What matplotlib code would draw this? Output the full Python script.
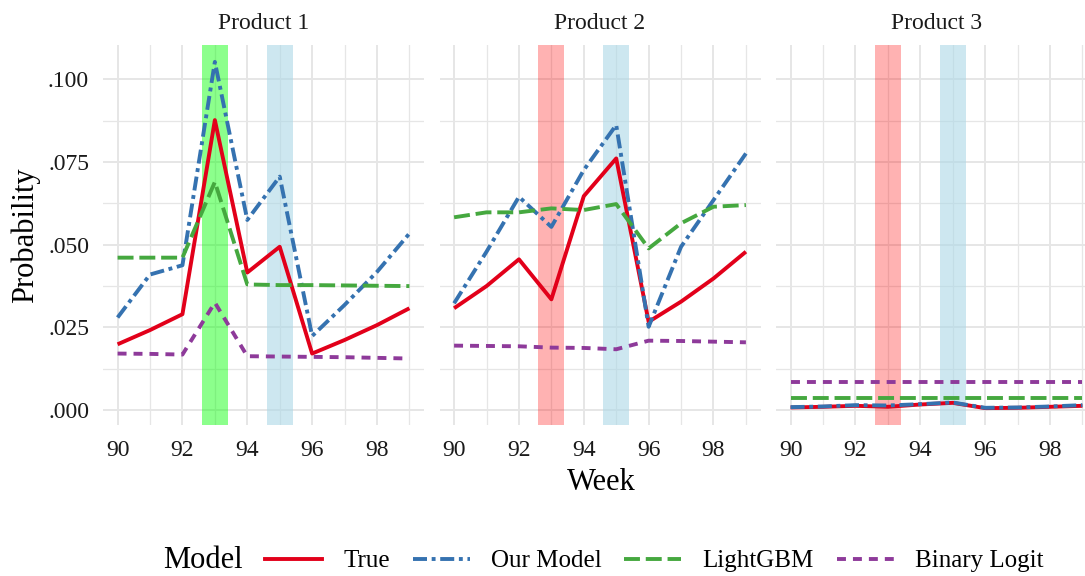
import matplotlib
matplotlib.use("Agg")
import matplotlib.pyplot as plt
from matplotlib.lines import Line2D
from matplotlib.ticker import FixedLocator

plt.rcParams['font.family'] = ['Liberation Serif', 'DejaVu Serif']

weeks = [90, 91, 92, 93, 94, 95, 96, 97, 98, 99]
products = ["Product 1", "Product 2", "Product 3"]
models = ["True", "Our Model", "LightGBM", "Binary Logit"]

# Product 1
p1_true = [0.0199, 0.0242, 0.0290, 0.0877, 0.0416, 0.0494, 0.0171, 0.0212, 0.0257, 0.0308]
p1_ours = [0.0280, 0.0410, 0.0438, 0.1053, 0.0575, 0.0706, 0.0224, 0.0318, 0.0418, 0.0534]
p1_lgbm = [0.0461, 0.0461, 0.0461, 0.0690, 0.0380, 0.0378, 0.0378, 0.0377, 0.0376, 0.0375]
p1_logit = [0.0171, 0.0170, 0.0168, 0.0325, 0.0163, 0.0162, 0.0161, 0.0160, 0.0158, 0.0156]
# Product 2
p2_true = [0.0308, 0.0375, 0.0456, 0.0335, 0.0647, 0.0761, 0.0267, 0.0328, 0.0398, 0.0479]
p2_ours = [0.0323, 0.0479, 0.0645, 0.0554, 0.0726, 0.0862, 0.0252, 0.0494, 0.0635, 0.0776]
p2_lgbm = [0.0583, 0.0598, 0.0598, 0.0610, 0.0605, 0.0623, 0.0489, 0.0565, 0.0615, 0.0620]
p2_logit = [0.0195, 0.0194, 0.0193, 0.0189, 0.0188, 0.0184, 0.0210, 0.0209, 0.0207, 0.0205]
# Product 3
p3_true = [0.0008, 0.0010, 0.0013, 0.0010, 0.0017, 0.0022, 0.0006, 0.0007, 0.0010, 0.0013]
p3_ours = [0.0009, 0.0011, 0.0015, 0.0014, 0.0018, 0.0023, 0.0007, 0.0008, 0.0011, 0.0015]
p3_lgbm = [0.0038, 0.0038, 0.0038, 0.0038, 0.0038, 0.0038, 0.0038, 0.0038, 0.0038, 0.0038]
p3_logit = [0.0086, 0.0086, 0.0086, 0.0086, 0.0086, 0.0086, 0.0086, 0.0086, 0.0086, 0.0086]

series = [
    [p1_true, p1_ours, p1_lgbm, p1_logit],
    [p2_true, p2_ours, p2_lgbm, p2_logit],
    [p3_true, p3_ours, p3_lgbm, p3_logit],
]

# highlighted weeks per product: (week, colour, alpha)
highlights = [
    [(93, "#00FF00", 0.45), (95, "#ADD8E6", 0.6)],
    [(93, "#FF0000", 0.3), (95, "#ADD8E6", 0.6)],
    [(93, "#FF0000", 0.3), (95, "#ADD8E6", 0.6)],
]

colors = ["#E2001A", "#3572B0", "#45A83F", "#8E3A9A"]
styles = ["-", (0, (3.6, 1.2, 1.0, 1.2)), (0, (4.1, 1.5)), (0, (2.3, 1.8))]
lw = 2.8

xticks = [90, 92, 94, 96, 98]
yticks = [0.0, 0.025, 0.05, 0.075, 0.1]
yticklabels = [".000", ".025", ".050", ".075", ".100"]

W, H = 1085, 576
fig = plt.figure(figsize=(W / 100, H / 100), dpi=100)

lefts = [103, 439.5, 776]
pw = 321
bottom = 1 - 425 / H
ph = 380 / H
grid_c = "#E6E6E6"

for i, prod in enumerate(products):
    ax = fig.add_axes([lefts[i] / W, bottom, pw / W, ph])
    ax.set_xlim(89.55, 99.45)
    ax.set_ylim(-0.0045, 0.1104)
    for s in ax.spines.values():
        s.set_visible(False)
    ax.xaxis.set_major_locator(FixedLocator(xticks))
    ax.xaxis.set_minor_locator(FixedLocator([91, 93, 95, 97, 99]))
    ax.yaxis.set_major_locator(FixedLocator(yticks))
    ax.yaxis.set_minor_locator(FixedLocator([0.0125, 0.0375, 0.0625, 0.0875]))
    ax.grid(which="major", color=grid_c, lw=1.4, zorder=0)
    ax.grid(which="minor", color=grid_c, lw=0.9, zorder=0)
    ax.set_axisbelow(True)
    ax.tick_params(which="both", length=0)
    ax.tick_params(axis="x", labelsize=17, pad=11, colors="#1a1a1a")
    ax.tick_params(axis="y", labelsize=17, pad=10, colors="#1a1a1a")
    ax.set_xticklabels([str(t) for t in xticks])
    if i == 0:
        ax.set_yticklabels(yticklabels)
    else:
        ax.set_yticklabels([])
    for wk, c, a in highlights[i]:
        ax.axvspan(wk - 0.4, wk + 0.4, color=c, alpha=a, lw=0, zorder=1)
    for j, vals in enumerate(series[i]):
        ax.plot(weeks, vals, color=colors[j], ls=styles[j], lw=lw, zorder=3 + j,
                solid_capstyle="butt", dash_capstyle="butt")
    ax.text(0.5, 1 + 16 / 380, prod, transform=ax.transAxes, ha="center",
            va="baseline", fontsize=17, color="#1a1a1a")

fig.text(601 / W, 1 - 490 / H, "Week", ha="center", va="baseline", fontsize=22)
fig.text(25 / W, 1 - 235 / H, "Probability", ha="center", va="center",
         fontsize=22, rotation=90)

fig.text(163 / W, 1 - 568 / H, "Model", ha="left", va="baseline", fontsize=22)
handles = [Line2D([0], [0], color=colors[j], ls=styles[j], lw=lw) for j in range(4)]
fig.legend(handles, models, loc="center left", bbox_to_anchor=(265 / W, 1 - 561 / H),
           ncol=4, frameon=False, fontsize=18, handlelength=2.28,
           handletextpad=0.84, columnspacing=0.92, borderaxespad=0, borderpad=0)

fig.savefig("out.png", dpi=100)
